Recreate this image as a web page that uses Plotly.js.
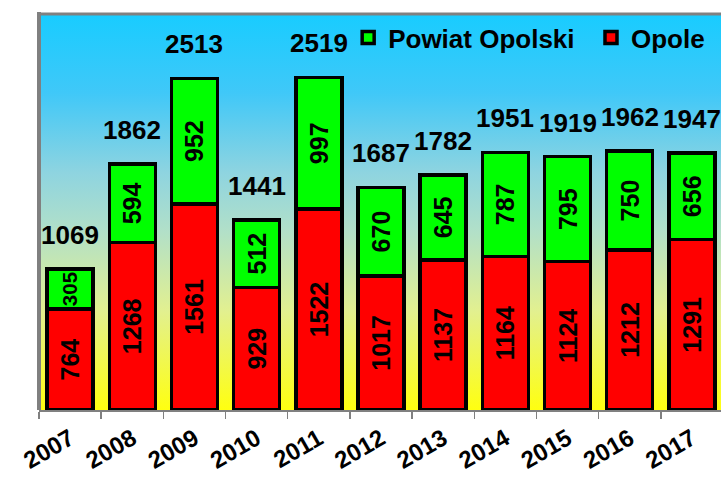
<!DOCTYPE html>
<html>
<head>
<meta charset="utf-8">
<script src="https://cdn.plot.ly/plotly-3.0.1.min.js"></script>
<style>
html,body{margin:0;padding:0;overflow:hidden;background:#fff;}
#chart{width:725px;height:477px;}
</style>
</head>
<body>
<div id="chart"></div>
<script>
const years = ['2007','2008','2009','2010','2011','2012','2013','2014','2015','2016','2017'];
const opole = [764,1268,1561,929,1522,1017,1137,1164,1124,1212,1291];
const powiat = [305,594,952,512,997,670,645,787,795,750,656];
const totals = [1069,1862,2513,1441,2519,1687,1782,1951,1919,1962,1947];

const FONT = 'Liberation Sans, Arial, sans-serif';

const gradSvg = '<svg xmlns="http://www.w3.org/2000/svg" width="100" height="100" preserveAspectRatio="none">' +
  '<defs><linearGradient id="g" x1="0" y1="0" x2="0" y2="1">' +
  '<stop offset="0" stop-color="#18CCFF"/>' +
  '<stop offset="0.2" stop-color="#40C8F8"/>' +
  '<stop offset="0.4" stop-color="#8ED4E0"/>' +
  '<stop offset="0.55" stop-color="#B2E0C8"/>' +
  '<stop offset="0.75" stop-color="#E2F090"/>' +
  '<stop offset="1" stop-color="#FFFF10"/>' +
  '</linearGradient></defs><rect width="100" height="100" fill="url(#g)"/></svg>';
const gradSrc = 'data:image/svg+xml;charset=utf-8,' + encodeURIComponent(gradSvg);

const barText = {family: FONT, size: 25, color: '#000', weight: 700};
const legFont = {family: FONT, size: 26, color: '#000', weight: 700};

const traces = [
  {
    type: 'bar', name: 'Opole', x: years, y: opole, legend: 'legend2',
    marker: {color: '#FF0000', line: {color: '#000', width: 3.5}},
    texttemplate: '%{y}', textposition: 'inside', insidetextanchor: 'middle',
    textangle: -90, textfont: barText, hoverinfo: 'none'
  },
  {
    type: 'bar', name: 'Powiat Opolski', x: years, y: powiat, legend: 'legend',
    marker: {color: '#00FF00', line: {color: '#000', width: 3.5}},
    texttemplate: '%{y}', textposition: 'inside', insidetextanchor: 'middle',
    textangle: -90, textfont: barText, hoverinfo: 'none'
  }
];

const annotations = totals.map((t, i) => ({
  x: i, y: t, xref: 'x', yref: 'y',
  text: '<b>' + t + '</b>', showarrow: false,
  yanchor: 'bottom', xanchor: 'center', yshift: 17,
  font: {family: FONT, size: 26, color: '#000'}
}));

const layout = {
  width: 725, height: 477,
  margin: {l: 39, r: 2, t: 14, b: 67},
  paper_bgcolor: '#fff',
  plot_bgcolor: 'rgba(0,0,0,0)',
  barmode: 'stack',
  bargap: 0.26,
  showlegend: true,
  legend: {
    orientation: 'h', x: 0.452, y: 1.0, xanchor: 'left', yanchor: 'top',
    bgcolor: 'rgba(0,0,0,0)', font: legFont
  },
  legend2: {
    orientation: 'h', x: 0.807, y: 1.0, xanchor: 'left', yanchor: 'top',
    bgcolor: 'rgba(0,0,0,0)', font: legFont
  },
  xaxis: {
    type: 'category', range: [-0.5, 10.5],
    showline: true, linecolor: '#808080', linewidth: 1.5,
    ticks: 'outside', ticklen: 7, tickcolor: '#808080', tickwidth: 1.5,
    tickson: 'boundaries', tickangle: -30, ticklabelstandoff: 4,
    tickfont: {family: FONT, size: 24, color: '#000', weight: 700},
    showgrid: false, zeroline: false, fixedrange: true
  },
  yaxis: {
    range: [0, 3000], showticklabels: false, showgrid: false,
    zeroline: false, ticks: '', showline: false, fixedrange: true
  },
  images: [{
    source: gradSrc, xref: 'paper', yref: 'paper', x: 0, y: 1,
    sizex: 1, sizey: 1, sizing: 'stretch', layer: 'below',
    xanchor: 'left', yanchor: 'top'
  }],
  shapes: [
    {type: 'line', xref: 'paper', yref: 'paper', x0: 0, x1: 0, y0: 0, y1: 1.005,
     line: {color: '#808080', width: 4}},
    {type: 'line', xref: 'paper', yref: 'paper', x0: 0, x1: 1, y0: 1, y1: 1,
     line: {color: '#808080', width: 3}}
  ],
  annotations: annotations
};

Plotly.newPlot('chart', traces, layout, {displayModeBar: false, staticPlot: true});
</script>
</body>
</html>
